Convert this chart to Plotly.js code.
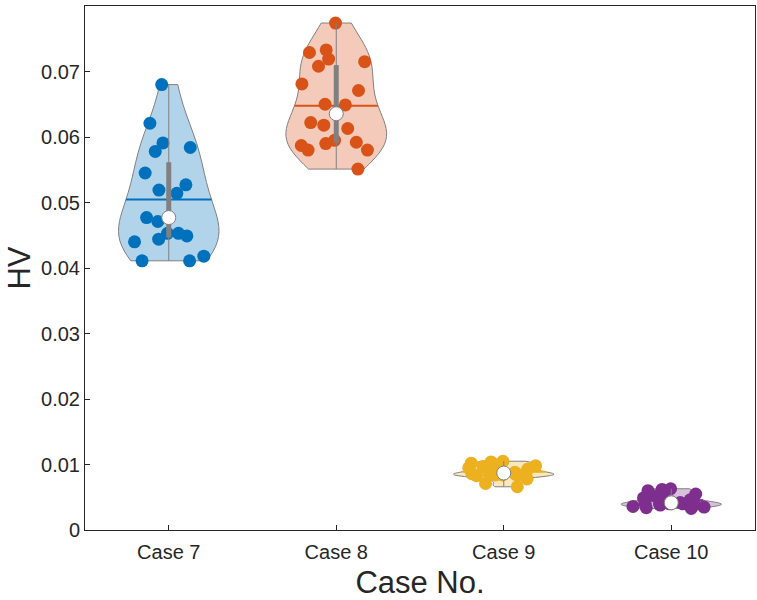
<!DOCTYPE html>
<html>
<head>
<meta charset="utf-8">
<script src="https://cdn.plot.ly/plotly-3.0.1.min.js"></script>
<style>
  body { margin: 0; background: #fff; }
  #chart { width: 757px; height: 600px; }
  /* MATLAB draws the mean as a solid line */
  path.meanline { stroke-dasharray: none !important; }
</style>
</head>
<body>
<div id="chart"></div>
<script>
var caseNames = ['Case 7', 'Case 8', 'Case 9', 'Case 10'];

var case7 = [0.0680, 0.0621, 0.0584, 0.0591, 0.0578, 0.0545, 0.0527, 0.0514, 0.0519, 0.0471,
             0.0477, 0.0444, 0.0453, 0.0449, 0.0440, 0.0453, 0.0418, 0.0411, 0.0411];
var case8 = [0.0774, 0.0715, 0.0708, 0.0719, 0.0729, 0.0733, 0.0681, 0.0671, 0.0649, 0.0650,
             0.0618, 0.0622, 0.0613, 0.0590, 0.0587, 0.0580, 0.0592, 0.0595, 0.0580, 0.0551];
var case9 = [0.0105, 0.0104, 0.0102, 0.0100, 0.0098, 0.0097, 0.0095, 0.0093, 0.0091, 0.0088,
             0.0086, 0.0085, 0.0085, 0.0084, 0.0084, 0.0084, 0.0083, 0.0078, 0.0071, 0.0066];
var case10 = [0.0063, 0.0062, 0.0060, 0.0058, 0.0055, 0.0052, 0.0049, 0.0046, 0.0044, 0.0042,
              0.0041, 0.0040, 0.0040, 0.0040, 0.0039, 0.0038, 0.0036, 0.0035, 0.0034, 0.0033];

var allValues = [case7, case8, case9, case10];
var bandwidths = [null, null, 0.0004, 0.0004];
var colors = ['#0072BD', '#D95319', '#EDB120', '#7E2F8E'];
var fills = ['rgba(0,114,189,0.3)', 'rgba(217,83,25,0.3)', 'rgba(237,177,32,0.3)', 'rgba(126,47,142,0.3)'];

function quantile(arr, p) {
  var s = arr.slice().sort(function (a, b) { return a - b; });
  var pos = p * (s.length - 1);
  var lo = Math.floor(pos), hi = Math.ceil(pos);
  return s[lo] + (s[hi] - s[lo]) * (pos - lo);
}

var data = [];

// violins with jittered points and mean line
allValues.forEach(function (vals, i) {
  var tr = {
    type: 'violin',
    x: vals.map(function () { return caseNames[i]; }),
    y: vals,
    name: caseNames[i],
    points: 'all',
    pointpos: 0,
    jitter: 0.9,
    spanmode: 'hard',
    scalemode: 'width',
    width: 0.6,
    fillcolor: fills[i],
    line: { color: '#808080', width: 1 },
    marker: { size: 13, color: colors[i], opacity: 1, line: { width: 0 } },
    meanline: { visible: true, color: colors[i], width: 2 },
    box: { visible: false },
    showlegend: false,
    hoverinfo: 'y'
  };
  if (bandwidths[i]) tr.bandwidth = bandwidths[i];
  data.push(tr);
});

// whiskers, IQR bars and median circles
allValues.forEach(function (vals, i) {
  var c = caseNames[i];
  data.push({
    type: 'scatter', mode: 'lines', showlegend: false, hoverinfo: 'skip',
    x: [c, c], y: [Math.min.apply(null, vals), Math.max.apply(null, vals)],
    line: { color: '#808080', width: 1 }
  });
  data.push({
    type: 'scatter', mode: 'lines', showlegend: false, hoverinfo: 'skip',
    x: [c, c], y: [quantile(vals, 0.25), quantile(vals, 0.75)],
    line: { color: '#808080', width: 5 }
  });
  data.push({
    type: 'scatter', mode: 'markers', showlegend: false, hoverinfo: 'y',
    x: [c], y: [quantile(vals, 0.5)],
    marker: { size: 14, color: '#ffffff', line: { color: '#808080', width: 1 } }
  });
});

var fam = 'Liberation Sans, Arial, sans-serif';
var tickFont = { family: fam, size: 20, color: '#262626' };
var titleFont = { family: fam, size: 31, color: '#262626' };

var layout = {
  width: 757,
  height: 600,
  margin: { l: 85, r: 2, t: 6, b: 70 },
  paper_bgcolor: '#ffffff',
  plot_bgcolor: '#ffffff',
  violinmode: 'overlay',
  font: tickFont,
  xaxis: {
    type: 'category',
    categoryorder: 'array',
    categoryarray: caseNames,
    range: [-0.5, 3.5],
    showline: true, mirror: true, linecolor: '#262626', linewidth: 1,
    ticks: 'inside', ticklen: 5, tickcolor: '#262626',
    ticklabelstandoff: 4,
    showgrid: false, zeroline: false,
    tickfont: tickFont,
    title: { text: 'Case No.', font: titleFont, standoff: 21 }
  },
  yaxis: {
    range: [0, 0.08],
    tick0: 0, dtick: 0.01,
    showline: true, mirror: true, linecolor: '#262626', linewidth: 1,
    ticks: 'inside', ticklen: 5, tickcolor: '#262626',
    showgrid: false, zeroline: false,
    tickfont: tickFont,
    title: { text: 'HV', font: titleFont, standoff: 1 }
  }
};

Plotly.newPlot('chart', data, layout, { displayModeBar: false, staticPlot: true });
</script>
</body>
</html>
